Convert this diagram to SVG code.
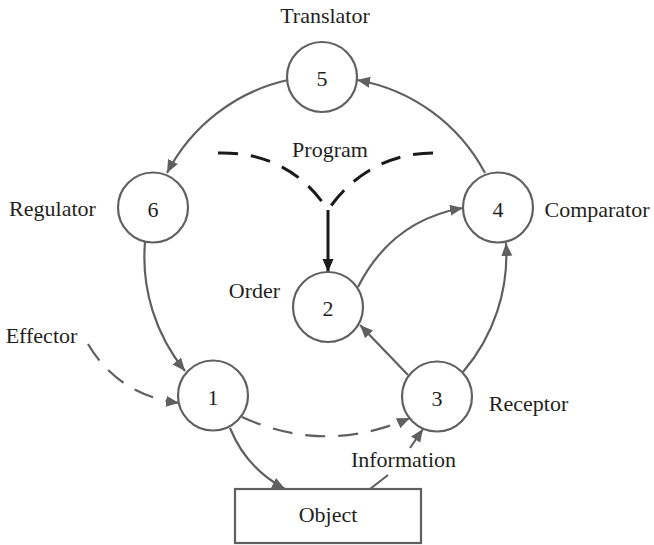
<svg xmlns="http://www.w3.org/2000/svg" width="654" height="545" viewBox="0 0 654 545" font-family="'Liberation Serif', 'DejaVu Serif', serif">
<style>
text{font-family:'Liberation Serif','DejaVu Serif',serif;font-size:22px;fill:#231f20;text-anchor:middle}
.node circle,.node rect{fill:#fff;stroke:#606060;stroke-width:2.2}
.c{fill:none;stroke:#606060;stroke-width:2.2}
.d{stroke-dasharray:20 13}
.p{fill:none;stroke:#1a1a1a;stroke-width:3}
</style>
<defs>
<marker id="ag" markerUnits="userSpaceOnUse" markerWidth="14" markerHeight="12" refX="13" refY="5.5" orient="auto"><path d="M0,0 L13,5.5 L0,11 Z" fill="#606060"/></marker>
<marker id="ab" markerUnits="userSpaceOnUse" markerWidth="14" markerHeight="12" refX="13" refY="5.5" orient="auto"><path d="M0,0 L13,5.5 L0,11 Z" fill="#1a1a1a"/></marker>
</defs>
<g id="connectors">
<path class="c" d="M485,173 A180,180 0 0 0 357,80" marker-end="url(#ag)"/>
<path class="c" d="M288,80 A180,180 0 0 0 167,173" marker-end="url(#ag)"/>
<path class="c" d="M145,242 A180,180 0 0 0 185,371" marker-end="url(#ag)"/>
<path class="c" d="M463,372 A180,180 0 0 0 506,243" marker-end="url(#ag)"/>
<path class="c" d="M358,287 Q392,220 463,208" marker-end="url(#ag)"/>
<path class="c" d="M408,375 L360,325" marker-end="url(#ag)"/>
<path class="c d" d="M88,344 Q118,395 179,403" marker-end="url(#ag)"/>
<path class="c d" d="M242,417 Q325,455 410,418" marker-end="url(#ag)"/>
<path class="c" d="M230,428 Q246,468 285,489" marker-end="url(#ag)"/>
<path class="c" d="M370,489 L388,475 M410,448 L423,429" marker-end="url(#ag)"/>
<path class="p d" d="M218,153 C262,152 300,168 328,210"/>
<path class="p d" d="M433,153 C392,153 354,172 328,210"/>
<path class="p" d="M328,210 L328,272" marker-end="url(#ab)"/>
</g>
<g id="node5" class="node"><circle cx="322" cy="77" r="35"/><text x="322" y="86">5</text></g>
<g id="node6" class="node"><circle cx="153" cy="207.5" r="35"/><text x="153" y="216.5">6</text></g>
<g id="node4" class="node"><circle cx="498" cy="207.5" r="35"/><text x="498" y="216.5">4</text></g>
<g id="node2" class="node"><circle cx="328" cy="307" r="35"/><text x="328" y="316">2</text></g>
<g id="node1" class="node"><circle cx="213" cy="395.5" r="35"/><text x="213" y="404.5">1</text></g>
<g id="node3" class="node"><circle cx="437" cy="396.5" r="35"/><text x="437" y="405.5">3</text></g>
<g id="object" class="node"><rect x="235" y="489" width="186" height="54"/><text x="328" y="522">Object</text></g>
<g id="labels">
<text x="325" y="23">Translator</text>
<text x="52.5" y="216">Regulator</text>
<text x="597" y="217">Comparator</text>
<text x="330" y="157">Program</text>
<text x="254.5" y="298">Order</text>
<text x="41.5" y="343">Effector</text>
<text x="528.5" y="411">Receptor</text>
<text x="403.5" y="467">Information</text>
</g>
</svg>
